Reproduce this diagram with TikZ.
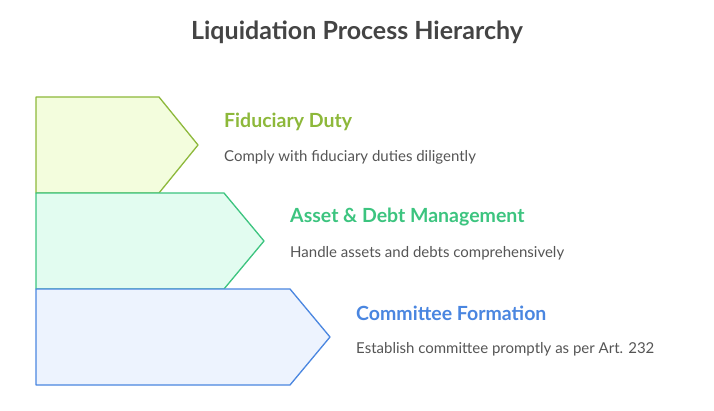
\documentclass[tikz,border=0pt]{standalone}
\usepackage{fontspec}
\setmainfont{Lato}
\usetikzlibrary{positioning}
\definecolor{fidline}{HTML}{8DB83A}
\definecolor{fidfill}{HTML}{F3FDDD}
\definecolor{assline}{HTML}{3CC47F}
\definecolor{assfill}{HTML}{E2FCF0}
\definecolor{comline}{HTML}{4A86E0}
\definecolor{comfill}{HTML}{EDF3FE}
\definecolor{titlegray}{HTML}{444444}
\definecolor{textgray}{HTML}{555555}
\tikzset{
  heading/.style={anchor=west,inner sep=0pt,font=\fontsize{19.5}{22}\selectfont\bfseries},
  desc/.style={anchor=west,inner sep=0pt,text=textgray,font=\fontsize{15}{18}\selectfont},
}
\begin{document}
\begin{tikzpicture}[x=1pt,y=-1pt]
	\useasboundingbox (0,0) rectangle (714,411);
	% title
	\node[inner sep=0pt,text=titlegray,font=\fontsize{25}{28}\selectfont\bfseries] (title) at (357,32) {Liquidation Process Hierarchy};

	% arrow blocks
	\draw[fidline,fill=fidfill,line width=1.3pt,line join=round] (36,97) -- (159,97) -- (198,145) -- (159,193) -- (36,193) -- cycle;
	\draw[assline,fill=assfill,line width=1.3pt,line join=round] (36,193) -- (224,193) -- (264,241) -- (224,289) -- (36,289) -- cycle;
	\draw[comline,fill=comfill,line width=1.3pt,line join=round] (36,289) -- (290,289) -- (330,337) -- (290,385) -- (36,385) -- cycle;

	% labels
	\node[heading,text=fidline] (fidhead) at (224,122) {Fiduciary Duty};
	\node[desc] (fiddesc) at (224,157) {Comply with fiduciary duties diligently};
	\node[heading,text=assline] (asshead) at (290,217) {Asset \& Debt Management};
	\node[desc] (assdesc) at (290,253) {Handle assets and debts comprehensively};
	\node[heading,text=comline] (comhead) at (356,313) {Committee Formation};
	\node[desc] (comdesc) at (356,349) {Establish committee promptly as per Art. 232};
\end{tikzpicture}
\end{document}
